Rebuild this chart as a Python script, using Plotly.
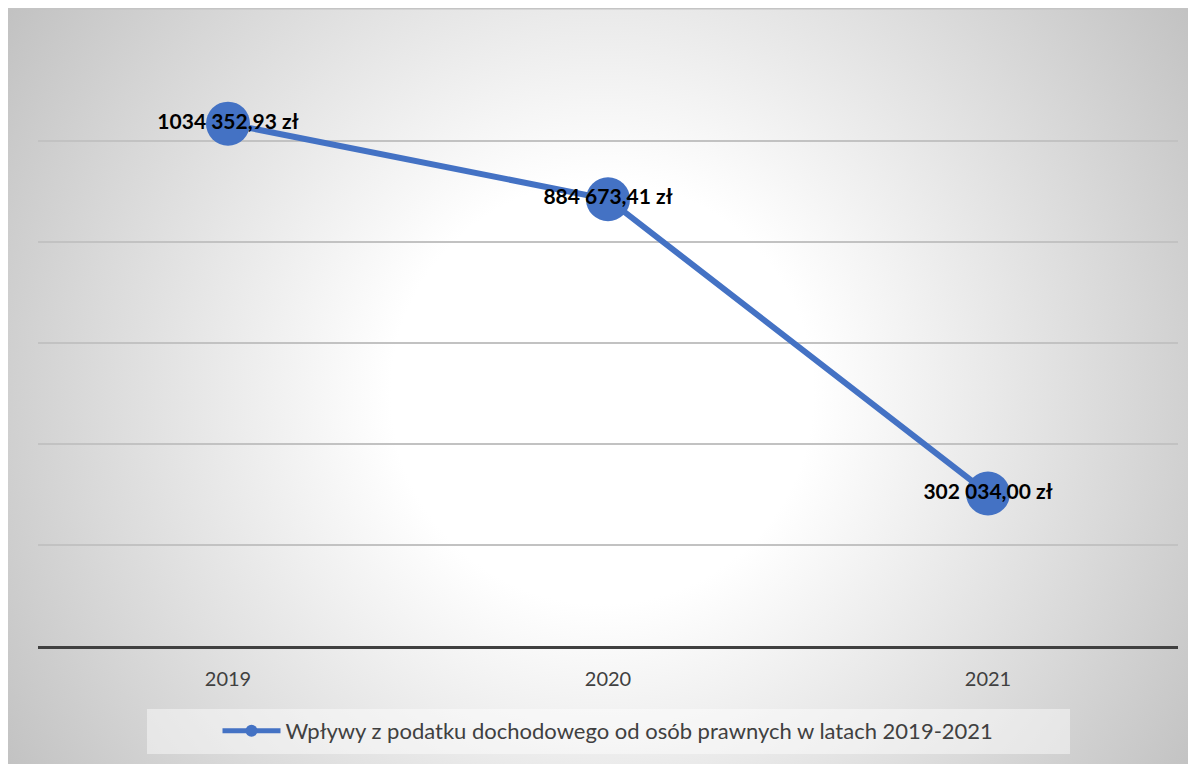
import base64
import plotly.graph_objects as go

years = ["2019", "2020", "2021"]
values = [1034352.93, 884673.41, 302034.00]
labels = ["1034 352,93 zł", "884 673,41 zł", "302 034,00 zł"]
series_name = "Wpływy z podatku dochodowego od osób prawnych w latach 2019-2021"

OX, OY = 8, 8  # page body margin
W, H = 1196, 764
L, R, T, B = 30, W - 1170, 32, H - 638
pw, ph = W - L - R, H - T - B

def px_x(x):  # page pixel -> paper
    return (x - OX - L) / pw

def px_y(y):
    return (H - B - (y - OY)) / ph

GW, GH = 1188, 755
svg = (
    f"<svg xmlns='http://www.w3.org/2000/svg' width='{W}' height='{H}' viewBox='0 0 {W} {H}' preserveAspectRatio='none'>"
    "<defs><radialGradient id='g' gradientUnits='userSpaceOnUse' cx='594' cy='385' r='704'>"
    "<stop offset='0' stop-color='#ffffff'/><stop offset='0.3' stop-color='#ffffff'/>"
    "<stop offset='1' stop-color='#c2c2c2'/></radialGradient></defs>"
    f"<rect x='0' y='0' width='{W}' height='{H}' fill='url(#g)'/>"
    f"<rect x='0' y='0' width='{W}' height='1.5' fill='#c4c4c4'/></svg>"
)
src = "data:image/svg+xml;base64," + base64.b64encode(svg.encode()).decode()

fig = go.Figure()
fig.add_trace(go.Scatter(
    x=years, y=values, text=labels, name=series_name,
    mode="lines+markers+text",
    line=dict(color="#4472C4", width=6),
    marker=dict(color="#4472C4", size=44),
    textposition="middle center",
    textfont=dict(family="Lato", size=21, color="#000000", weight="bold"),
))

fig.update_layout(
    width=W, height=H,
    margin=dict(l=L, r=R, t=T, b=B),
    paper_bgcolor="#ffffff",
    plot_bgcolor="rgba(0,0,0,0)",
    showlegend=True,
    legend=dict(
        orientation="h", x=0.5, xanchor="center", y=px_y(731), yanchor="middle",
        bgcolor="rgba(0,0,0,0)", font=dict(family="Lato", size=22, color="#404040"),
        itemsizing="constant", itemwidth=58,
    ),
    images=[dict(source=src, xref="paper", yref="paper", x=-L / pw, y=(H - B) / ph,
                 sizex=W / pw, sizey=H / ph, sizing="stretch",
                 xanchor="left", yanchor="top", layer="below")],
    shapes=[dict(type="rect", xref="paper", yref="paper",
                 x0=px_x(147), x1=px_x(1070), y0=px_y(754), y1=px_y(709),
                 fillcolor="rgba(255,255,255,0.45)", line=dict(width=0), layer="below")],
    xaxis=dict(
        type="category", range=[-0.5, 2.5], showgrid=False,
        showline=True, linecolor="#404040", linewidth=3,
        ticks="outside", ticklen=13, tickcolor="rgba(0,0,0,0)",
        tickfont=dict(family="Lato", size=20, color="#404040"),
    ),
    yaxis=dict(
        range=[0, 1200000], dtick=200000, showticklabels=False,
        showgrid=True, gridcolor="#c2c2c2", gridwidth=1.5, zeroline=False,
    ),
)

fig.write_html("out.html")
